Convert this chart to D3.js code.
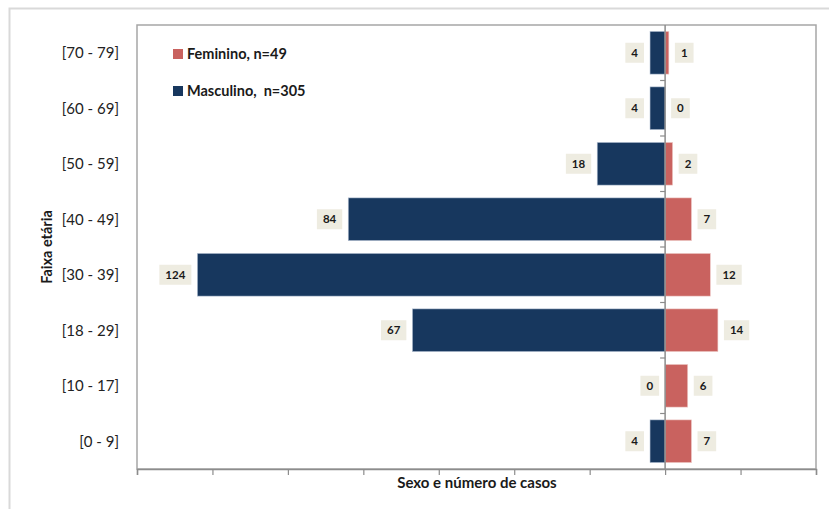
<!DOCTYPE html>
<html>
<head>
<meta charset="utf-8">
<script src="https://cdn.jsdelivr.net/npm/d3@7"></script>
<style>
  html, body { margin: 0; padding: 0; background: #fff; }
  svg { display: block; font-family: Lato, "Open Sans", sans-serif; }
</style>
</head>
<body>
<svg id="chart" width="829" height="509"></svg>
<script>
// Age groups, top to bottom
const ageGroups = ["[70 - 79]", "[60 - 69]", "[50 - 59]", "[40 - 49]", "[30 - 39]", "[18 - 29]", "[10 - 17]", "[0 - 9]"];
// Cases per age group
const masculino = [4, 4, 18, 84, 124, 67, 0, 4];
const feminino  = [1, 0, 2, 7, 12, 14, 6, 7];
// Horizontal axis ticks (males drawn to the left as negatives)
const xTicks = [-140, -120, -100, -80, -60, -40, -20, 0, 20, 40];
const legendItems = [
  { label: "Feminino, n=49", color: "#C9625F" },
  { label: "Masculino,  n=305", color: "#17375E" }
];

const COLOR_M = "#17375E", COLOR_F = "#C9625F";
const svg = d3.select("#chart");
const plot = { left: 137, right: 816, top: 25, bottom: 469 };

// outer chart frame
svg.append("rect").attr("x", 9.5).attr("y", 8.5).attr("width", 840).attr("height", 520)
  .attr("fill", "none").attr("stroke", "#D9D9D9").attr("stroke-width", 2);

const x = d3.scaleLinear().domain([-140, 40]).range([plot.left, plot.right]);
const y = d3.scaleBand().domain(ageGroups).range([plot.top, plot.bottom]).paddingInner(0.23).paddingOuter(0.115);
const yEdges = d3.scaleBand().domain(ageGroups).range([plot.top, plot.bottom]);

// plot area border
svg.append("rect").attr("x", plot.left).attr("y", plot.top)
  .attr("width", plot.right - plot.left).attr("height", plot.bottom - plot.top)
  .attr("fill", "none").attr("stroke", "#A6A6A6").attr("stroke-width", 1.5);

// bars
const rows = ageGroups.map((g, i) => ({ g, m: masculino[i], f: feminino[i] }));
svg.append("g").selectAll("rect").data(rows).join("rect")
  .attr("x", d => x(-d.m)).attr("y", d => y(d.g))
  .attr("width", d => x(0) - x(-d.m)).attr("height", y.bandwidth())
  .attr("fill", COLOR_M).attr("stroke", "#B9C5D6").attr("stroke-width", 0.6);
svg.append("g").selectAll("rect").data(rows.filter(d => d.f > 0)).join("rect")
  .attr("x", x(0)).attr("y", d => y(d.g))
  .attr("width", d => x(d.f) - x(0)).attr("height", y.bandwidth())
  .attr("fill", COLOR_F).attr("stroke", "#F0D0CE").attr("stroke-width", 0.6);

// bottom axis
const xAxis = svg.append("g").attr("transform", `translate(0,${plot.bottom})`)
  .call(d3.axisBottom(x).tickValues(xTicks).tickSize(6).tickFormat(""));
xAxis.select(".domain").attr("stroke", "#8C8C8C").attr("stroke-width", 1.5);
xAxis.selectAll(".tick line").attr("stroke", "#8C8C8C").attr("stroke-width", 1.2);

// vertical zero axis with category separators
svg.append("line").attr("x1", x(0)).attr("x2", x(0)).attr("y1", plot.top).attr("y2", plot.bottom)
  .attr("stroke", "#8C8C8C").attr("stroke-width", 1.5);
svg.append("g").selectAll("line").data(ageGroups.slice(1)).join("line")
  .attr("x1", x(0) - 5).attr("x2", x(0))
  .attr("y1", d => yEdges(d)).attr("y2", d => yEdges(d))
  .attr("stroke", "#8C8C8C").attr("stroke-width", 1.2);

// category labels
svg.append("g").selectAll("text").data(ageGroups).join("text")
  .attr("x", 119).attr("y", d => y(d) + y.bandwidth() / 2).attr("dy", "0.35em")
  .attr("text-anchor", "end").attr("font-size", 15).attr("fill", "#222")
  .text(d => d);

// value labels in boxes
function valueLabel(g, value, anchorX, side, cy) {
  const t = g.append("text").attr("y", cy).attr("dy", "0.36em")
    .attr("text-anchor", "middle").attr("font-size", 11.5).attr("font-weight", "bold")
    .attr("fill", "#1a1a1a").text(value);
  const w = t.node().getComputedTextLength() + 12;
  const bx = side < 0 ? anchorX - 6 - w : anchorX + 6;
  g.insert("rect", "text").attr("x", bx).attr("y", cy - 10).attr("width", w).attr("height", 20)
    .attr("fill", "#EEECE1");
  t.attr("x", bx + w / 2);
}
const lab = svg.append("g");
rows.forEach(d => {
  const cy = y(d.g) + y.bandwidth() / 2;
  const gm = lab.append("g"); valueLabel(gm, d.m, x(-d.m), -1, cy);
  const gf = lab.append("g"); valueLabel(gf, d.f, x(d.f), 1, cy);
});

// legend
const leg = svg.append("g").selectAll("g").data(legendItems).join("g")
  .attr("transform", (d, i) => `translate(173,${49 + i * 37})`);
leg.append("rect").attr("width", 10).attr("height", 10).attr("fill", d => d.color);
leg.append("text").attr("x", 14).attr("y", 5).attr("dy", "0.36em")
  .attr("font-size", 14.5).attr("font-weight", "bold").attr("fill", "#1a1a1a")
  .style("white-space", "pre").text(d => d.label);

// axis titles
svg.append("text").attr("x", 477).attr("y", 483).attr("dy", "0.36em")
  .attr("text-anchor", "middle").attr("font-size", 15).attr("font-weight", "bold").attr("fill", "#1a1a1a")
  .text("Sexo e número de casos");
svg.append("text").attr("transform", `translate(47,${(plot.top + plot.bottom) / 2}) rotate(-90)`)
  .attr("dy", "0.36em").attr("text-anchor", "middle").attr("font-size", 14.5).attr("font-weight", "bold")
  .attr("fill", "#1a1a1a").text("Faixa etária");
</script>
</body>
</html>
